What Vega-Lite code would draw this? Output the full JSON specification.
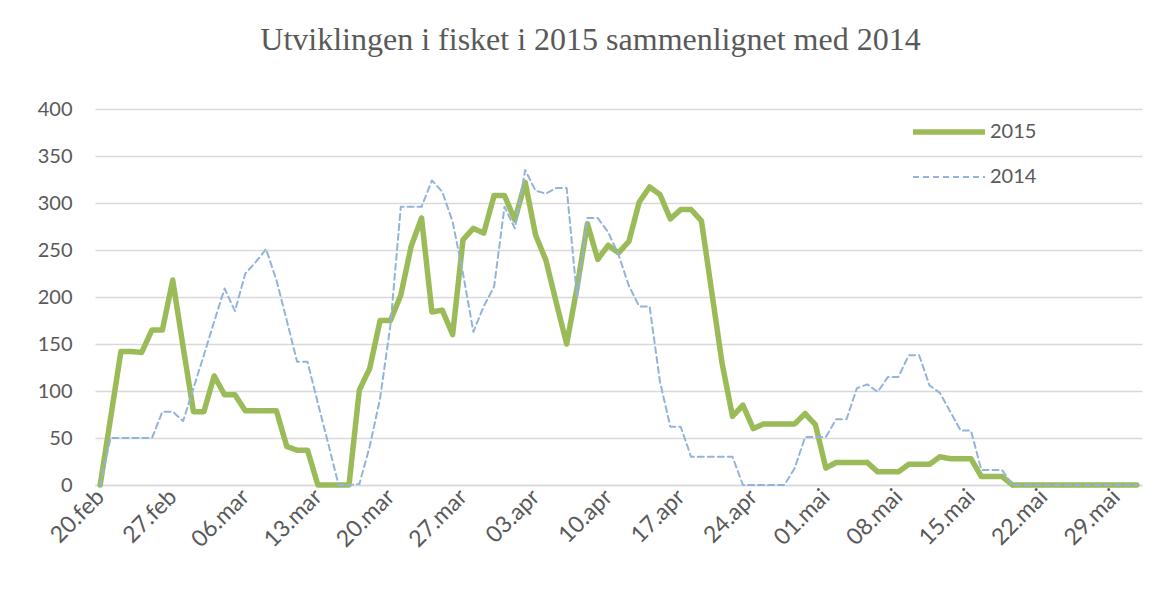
{
  "$schema": "https://vega.github.io/schema/vega-lite/v6.json",
  "autosize": {"type": "none"},
  "padding": {"left": 95, "top": 109, "right": 25, "bottom": 107},
  "width": 1047,
  "height": 376,
  "background": "white",
  "title": {
    "text": "Utviklingen i fisket i 2015 sammenlignet med 2014",
    "font": "Liberation Serif",
    "fontSize": 32,
    "fontWeight": "normal",
    "color": "#595959",
    "anchor": "middle",
    "baseline": "alphabetic",
    "dx": -28,
    "offset": 17
  },
  "data": {
    "values": [
      {"date": "2015-02-20", "2015": 0, "2014": 0},
      {"date": "2015-02-21", "2015": 71, "2014": 50},
      {"date": "2015-02-22", "2015": 142, "2014": 50},
      {"date": "2015-02-23", "2015": 142, "2014": 50},
      {"date": "2015-02-24", "2015": 141, "2014": 50},
      {"date": "2015-02-25", "2015": 165, "2014": 50},
      {"date": "2015-02-26", "2015": 165, "2014": 78},
      {"date": "2015-02-27", "2015": 218, "2014": 78},
      {"date": "2015-02-28", "2015": 147, "2014": 68},
      {"date": "2015-03-01", "2015": 78, "2014": 103},
      {"date": "2015-03-02", "2015": 78, "2014": 138},
      {"date": "2015-03-03", "2015": 116, "2014": 174},
      {"date": "2015-03-04", "2015": 96, "2014": 209},
      {"date": "2015-03-05", "2015": 96, "2014": 185},
      {"date": "2015-03-06", "2015": 79, "2014": 225},
      {"date": "2015-03-07", "2015": 79, "2014": 237},
      {"date": "2015-03-08", "2015": 79, "2014": 251},
      {"date": "2015-03-09", "2015": 79, "2014": 218},
      {"date": "2015-03-10", "2015": 41, "2014": 175},
      {"date": "2015-03-11", "2015": 37, "2014": 131},
      {"date": "2015-03-12", "2015": 37, "2014": 131},
      {"date": "2015-03-13", "2015": 0, "2014": 87},
      {"date": "2015-03-14", "2015": 0, "2014": 44},
      {"date": "2015-03-15", "2015": 0, "2014": 0},
      {"date": "2015-03-16", "2015": 0, "2014": 0},
      {"date": "2015-03-17", "2015": 101, "2014": 1},
      {"date": "2015-03-18", "2015": 124, "2014": 41},
      {"date": "2015-03-19", "2015": 175, "2014": 92},
      {"date": "2015-03-20", "2015": 175, "2014": 170},
      {"date": "2015-03-21", "2015": 202, "2014": 296},
      {"date": "2015-03-22", "2015": 254, "2014": 296},
      {"date": "2015-03-23", "2015": 284, "2014": 296},
      {"date": "2015-03-24", "2015": 184, "2014": 324},
      {"date": "2015-03-25", "2015": 186, "2014": 312},
      {"date": "2015-03-26", "2015": 160, "2014": 280},
      {"date": "2015-03-27", "2015": 261, "2014": 225},
      {"date": "2015-03-28", "2015": 273, "2014": 163},
      {"date": "2015-03-29", "2015": 268, "2014": 190},
      {"date": "2015-03-30", "2015": 308, "2014": 211},
      {"date": "2015-03-31", "2015": 308, "2014": 296},
      {"date": "2015-04-01", "2015": 282, "2014": 273},
      {"date": "2015-04-02", "2015": 322, "2014": 335},
      {"date": "2015-04-03", "2015": 266, "2014": 313},
      {"date": "2015-04-04", "2015": 239, "2014": 310},
      {"date": "2015-04-05", "2015": 194, "2014": 316},
      {"date": "2015-04-06", "2015": 150, "2014": 316},
      {"date": "2015-04-07", "2015": 210, "2014": 200},
      {"date": "2015-04-08", "2015": 278, "2014": 284},
      {"date": "2015-04-09", "2015": 240, "2014": 284},
      {"date": "2015-04-10", "2015": 255, "2014": 269},
      {"date": "2015-04-11", "2015": 247, "2014": 245},
      {"date": "2015-04-12", "2015": 259, "2014": 212},
      {"date": "2015-04-13", "2015": 301, "2014": 190},
      {"date": "2015-04-14", "2015": 317, "2014": 190},
      {"date": "2015-04-15", "2015": 309, "2014": 110},
      {"date": "2015-04-16", "2015": 283, "2014": 62},
      {"date": "2015-04-17", "2015": 293, "2014": 62},
      {"date": "2015-04-18", "2015": 293, "2014": 30},
      {"date": "2015-04-19", "2015": 281, "2014": 30},
      {"date": "2015-04-20", "2015": 205, "2014": 30},
      {"date": "2015-04-21", "2015": 129, "2014": 30},
      {"date": "2015-04-22", "2015": 73, "2014": 30},
      {"date": "2015-04-23", "2015": 85, "2014": 0},
      {"date": "2015-04-24", "2015": 60, "2014": 0},
      {"date": "2015-04-25", "2015": 65, "2014": 0},
      {"date": "2015-04-26", "2015": 65, "2014": 0},
      {"date": "2015-04-27", "2015": 65, "2014": 0},
      {"date": "2015-04-28", "2015": 65, "2014": 18},
      {"date": "2015-04-29", "2015": 76, "2014": 51},
      {"date": "2015-04-30", "2015": 64, "2014": 51},
      {"date": "2015-05-01", "2015": 18, "2014": 51},
      {"date": "2015-05-02", "2015": 24, "2014": 70},
      {"date": "2015-05-03", "2015": 24, "2014": 70},
      {"date": "2015-05-04", "2015": 24, "2014": 103},
      {"date": "2015-05-05", "2015": 24, "2014": 107},
      {"date": "2015-05-06", "2015": 14, "2014": 99},
      {"date": "2015-05-07", "2015": 14, "2014": 115},
      {"date": "2015-05-08", "2015": 14, "2014": 115},
      {"date": "2015-05-09", "2015": 22, "2014": 138},
      {"date": "2015-05-10", "2015": 22, "2014": 138},
      {"date": "2015-05-11", "2015": 22, "2014": 106},
      {"date": "2015-05-12", "2015": 30, "2014": 98},
      {"date": "2015-05-13", "2015": 28, "2014": 78},
      {"date": "2015-05-14", "2015": 28, "2014": 58},
      {"date": "2015-05-15", "2015": 28, "2014": 58},
      {"date": "2015-05-16", "2015": 9, "2014": 16},
      {"date": "2015-05-17", "2015": 9, "2014": 16},
      {"date": "2015-05-18", "2015": 9, "2014": 16},
      {"date": "2015-05-19", "2015": 0, "2014": 0},
      {"date": "2015-05-20", "2015": 0, "2014": 0},
      {"date": "2015-05-21", "2015": 0, "2014": 0},
      {"date": "2015-05-22", "2015": 0, "2014": 0},
      {"date": "2015-05-23", "2015": 0, "2014": 0},
      {"date": "2015-05-24", "2015": 0, "2014": 0},
      {"date": "2015-05-25", "2015": 0, "2014": 0},
      {"date": "2015-05-26", "2015": 0, "2014": 0},
      {"date": "2015-05-27", "2015": 0, "2014": 0},
      {"date": "2015-05-28", "2015": 0, "2014": 0},
      {"date": "2015-05-29", "2015": 0, "2014": 0},
      {"date": "2015-05-30", "2015": 0, "2014": 0},
      {"date": "2015-05-31", "2015": 0, "2014": 0}
    ]
  },
  "transform": [
    {"fold": ["2015", "2014"], "as": ["series", "value"]}
  ],
  "mark": {"type": "line", "strokeJoin": "round", "strokeCap": "round"},
  "encoding": {
    "x": {
      "field": "date",
      "type": "temporal",
      "scale": {
        "type": "utc",
        "domain": [
          {"year": 2015, "month": 2, "date": 19, "hours": 12, "utc": true},
          {"year": 2015, "month": 5, "date": 31, "hours": 12, "utc": true}
        ]
      },
      "axis": {
        "title": null,
        "values": [
          {"year": 2015, "month": 2, "date": 20, "utc": true},
          {"year": 2015, "month": 2, "date": 27, "utc": true},
          {"year": 2015, "month": 3, "date": 6, "utc": true},
          {"year": 2015, "month": 3, "date": 13, "utc": true},
          {"year": 2015, "month": 3, "date": 20, "utc": true},
          {"year": 2015, "month": 3, "date": 27, "utc": true},
          {"year": 2015, "month": 4, "date": 3, "utc": true},
          {"year": 2015, "month": 4, "date": 10, "utc": true},
          {"year": 2015, "month": 4, "date": 17, "utc": true},
          {"year": 2015, "month": 4, "date": 24, "utc": true},
          {"year": 2015, "month": 5, "date": 1, "utc": true},
          {"year": 2015, "month": 5, "date": 8, "utc": true},
          {"year": 2015, "month": 5, "date": 15, "utc": true},
          {"year": 2015, "month": 5, "date": 22, "utc": true},
          {"year": 2015, "month": 5, "date": 29, "utc": true}
        ],
        "labelExpr": "utcFormat(datum.value, '%d') + '.' + ['jan','feb','mar','apr','mai','jun'][utcmonth(datum.value)]",
        "labelAngle": -45,
        "labelFont": "Lato",
        "labelFontSize": 23,
        "labelColor": "#595959",
        "labelPadding": 8,
        "labelAlign": "right",
        "labelBaseline": "middle",
        "ticks": false,
        "grid": false,
        "domain": true,
        "domainColor": "#D9D9D9",
        "domainWidth": 1.3,
        "labelOverlap": false
      }
    },
    "y": {
      "field": "value",
      "type": "quantitative",
      "scale": {"domain": [0, 400], "nice": false, "zero": true},
      "axis": {
        "title": null,
        "values": [0, 50, 100, 150, 200, 250, 300, 350, 400],
        "ticks": false,
        "domain": false,
        "grid": true,
        "gridColor": "#D9D9D9",
        "gridWidth": 1.3,
        "labelFont": "Lato",
        "labelFontSize": 20,
        "labelColor": "#595959",
        "labelPadding": 23
      }
    },
    "color": {
      "field": "series",
      "type": "nominal",
      "scale": {"domain": ["2015", "2014"], "range": ["#9BBB59", "#93B3DB"]},
      "legend": {
        "title": null,
        "orient": "none",
        "legendX": 815,
        "legendY": 10,
        "symbolType": "stroke",
        "symbolSize": 5184,
        "clipHeight": 26,
        "rowPadding": 19,
        "labelFont": "Lato",
        "labelFontSize": 20,
        "labelColor": "#595959",
        "labelOffset": 2
      }
    },
    "strokeDash": {
      "field": "series",
      "type": "nominal",
      "scale": {"domain": ["2015", "2014"], "range": [[1, 0], [6, 4]]},
      "legend": null
    },
    "strokeWidth": {
      "field": "series",
      "type": "nominal",
      "scale": {"domain": ["2015", "2014"], "range": [5.5, 2]},
      "legend": null
    }
  },
  "config": {"view": {"stroke": null}}
}
